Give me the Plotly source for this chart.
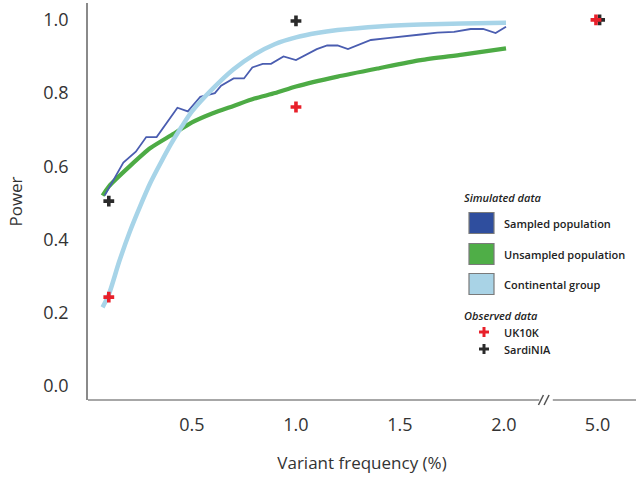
import plotly.graph_objects as go

# ---- data -------------------------------------------------------------
# Simulated power curves (variant frequency in %, power)
sampled_freq = [0.08, 0.14, 0.17, 0.23, 0.28, 0.33, 0.43, 0.48, 0.54, 0.61, 0.64,
                0.70, 0.75, 0.79, 0.84, 0.88, 0.94, 1.00, 1.10, 1.15, 1.20, 1.25,
                1.36, 1.44, 1.51, 1.60, 1.68, 1.76, 1.84, 1.90, 1.96, 2.01]
sampled_power = [0.52, 0.58, 0.61, 0.64, 0.68, 0.68, 0.76, 0.75, 0.79, 0.80, 0.82,
                 0.84, 0.84, 0.87, 0.88, 0.88, 0.90, 0.89, 0.92, 0.93, 0.93, 0.92,
                 0.945, 0.95, 0.955, 0.96, 0.965, 0.967, 0.975, 0.975, 0.964, 0.981]

unsampled_freq = [0.07, 0.10, 0.20, 0.30, 0.40, 0.50, 0.60, 0.70, 0.80, 0.90,
                  1.00, 1.20, 1.40, 1.60, 1.80, 2.01]
unsampled_power = [0.52, 0.545, 0.60, 0.65, 0.685, 0.72, 0.745, 0.765, 0.785, 0.80,
                   0.818, 0.845, 0.868, 0.89, 0.905, 0.922]

continental_freq = [0.07, 0.10, 0.15, 0.20, 0.25, 0.30, 0.35, 0.40, 0.45, 0.50, 0.60,
                    0.70, 0.80, 0.90, 1.00, 1.10, 1.20, 1.40, 1.60, 1.80, 2.01]
continental_power = [0.215, 0.25, 0.34, 0.42, 0.49, 0.555, 0.61, 0.662, 0.708, 0.75,
                     0.812, 0.865, 0.905, 0.934, 0.952, 0.964, 0.972, 0.982, 0.987,
                     0.990, 0.992]

# Observed power
uk10k_freq = [0.1, 1.0, 4.985]
uk10k_power = [0.243, 0.762, 1.0]
sardinia_freq = [0.1, 1.0, 5.02]
sardinia_power = [0.505, 0.997, 1.0]

tick_values = [0.5, 1.0, 1.5, 2.0, 5.0]
tick_labels = ["0.5", "1.0", "1.5", "2.0", "5.0"]
power_ticks = [0.0, 0.2, 0.4, 0.6, 0.8, 1.0]

# ---- broken x axis: 0-2 % linear, then a jump to 5 % ------------------
FIVE_POS = 2.45


def axis_pos(f):
    return f if f <= 3.0 else FIVE_POS + (f - 5.0) * 0.5


def to_pos(values):
    return [axis_pos(v) for v in values]


# ---- figure geometry -------------------------------------------------
W, H = 638, 482
ML, MR, MT, MB = 88, 2, 3, 82
X_RANGE = [0.0, 2.635]
Y_RANGE = [-0.038, 1.046]

FONT = "Open Sans"
TEXT = "#333333"
AXIS = "#8a8a8a"

BLUE = "#4a5db0"
GREEN = "#4dab45"
LIGHT = "#a7d4e8"
RED = "#e8202a"
DARK = "#2a2a2a"

fig = go.Figure()

fig.add_trace(go.Scatter(x=to_pos(unsampled_freq), y=unsampled_power, mode="lines",
                         line=dict(color=GREEN, width=4.2, shape="spline", smoothing=0.6),
                         name="Unsampled population", showlegend=False))
fig.add_trace(go.Scatter(x=to_pos(sampled_freq), y=sampled_power, mode="lines",
                         line=dict(color=BLUE, width=1.8),
                         name="Sampled population", showlegend=False))
fig.add_trace(go.Scatter(x=to_pos(continental_freq), y=continental_power, mode="lines",
                         line=dict(color=LIGHT, width=4.5, shape="spline", smoothing=0.8),
                         name="Continental group", showlegend=False))
fig.add_trace(go.Scatter(x=to_pos(sardinia_freq), y=sardinia_power, mode="markers",
                         marker=dict(symbol="cross", size=9, color=DARK,
                                     line=dict(width=0)),
                         name="SardiNIA", showlegend=False))
fig.add_trace(go.Scatter(x=to_pos(uk10k_freq), y=uk10k_power, mode="markers",
                         marker=dict(symbol="cross", size=9, color=RED,
                                     line=dict(width=0)),
                         name="UK10K", showlegend=False))


def px(x):
    return (x - ML) / (W - ML - MR)


def py(y):
    return (H - MB - y) / (H - MT - MB)


shapes = []
annotations = []

# x axis line drawn in two pieces around the break
shapes.append(dict(type="line", xref="x", yref="paper", x0=X_RANGE[0], x1=2.17,
                   y0=0, y1=0, line=dict(color=AXIS, width=1.5)))
shapes.append(dict(type="line", xref="x", yref="paper", x0=2.235, x1=X_RANGE[1],
                   y0=0, y1=0, line=dict(color=AXIS, width=1.5)))
for bx in (2.178, 2.205):
    shapes.append(dict(type="line", xref="x", yref="paper",
                       x0=bx - 0.012, x1=bx + 0.012, y0=py(405), y1=py(395),
                       line=dict(color="#555555", width=1.5)))

# legend block
LEG_FONT = dict(family=FONT, size=11, color="#222222", weight=600)
annotations.append(dict(xref="paper", yref="paper", x=px(462), y=py(197),
                        xanchor="left", yanchor="middle", showarrow=False,
                        text="<i>Simulated data</i>", font=LEG_FONT))
legend_rows = [("Sampled population", "#2f4e9e", 223),
               ("Unsampled population", "#4fae47", 254),
               ("Continental group", "#a9d3e6", 284)]
for label, col, yc in legend_rows:
    shapes.append(dict(type="rect", xref="paper", yref="paper",
                       x0=px(469), x1=px(494), y0=py(yc + 10.5), y1=py(yc - 10.5),
                       fillcolor=col, line=dict(color="#7a7a7a", width=1.2)))
    annotations.append(dict(xref="paper", yref="paper", x=px(502), y=py(yc),
                            xanchor="left", yanchor="middle", showarrow=False,
                            text=label, font=LEG_FONT))
annotations.append(dict(xref="paper", yref="paper", x=px(462), y=py(315),
                        xanchor="left", yanchor="middle", showarrow=False,
                        text="<i>Observed data</i>", font=LEG_FONT))
for label, col, yc in [("UK10K", RED, 332), ("SardiNIA", DARK, 349)]:
    annotations.append(dict(xref="paper", yref="paper", x=px(502), y=py(yc),
                            xanchor="left", yanchor="middle", showarrow=False,
                            text=label, font=LEG_FONT))
    # thick plus sign for the legend key
    cx = 484
    shapes.append(dict(type="rect", xref="paper", yref="paper", layer="above",
                       x0=px(cx - 5), x1=px(cx + 5), y0=py(yc + 1.5), y1=py(yc - 1.5),
                       fillcolor=col, line=dict(width=0)))
    shapes.append(dict(type="rect", xref="paper", yref="paper", layer="above",
                       x0=px(cx - 1.5), x1=px(cx + 1.5), y0=py(yc + 5), y1=py(yc - 5),
                       fillcolor=col, line=dict(width=0)))

fig.update_layout(
    width=W, height=H, autosize=False,
    margin=dict(l=ML, r=MR, t=MT, b=MB, pad=0),
    paper_bgcolor="white", plot_bgcolor="white",
    showlegend=False,
    font=dict(family=FONT, color=TEXT),
    shapes=shapes, annotations=annotations,
    xaxis=dict(range=X_RANGE, showgrid=False, zeroline=False, showline=False,
               tickvals=to_pos(tick_values), ticktext=tick_labels,
               ticks="", tickfont=dict(family=FONT, size=18, color=TEXT),
               ticklabelstandoff=12, automargin=False,
               title=dict(text="Variant frequency (%)", standoff=22,
                          font=dict(family=FONT, size=17, color=TEXT))),
    yaxis=dict(range=Y_RANGE, showgrid=False, zeroline=False, showline=True,
               linecolor=AXIS, linewidth=1.5,
               tickvals=power_ticks, tickformat=".1f",
               ticks="", tickfont=dict(family=FONT, size=18, color=TEXT),
               ticklabelstandoff=14, automargin=False,
               title=dict(text="Power", standoff=16,
                          font=dict(family=FONT, size=17, color=TEXT))),
)

fig.write_html("out.html")
